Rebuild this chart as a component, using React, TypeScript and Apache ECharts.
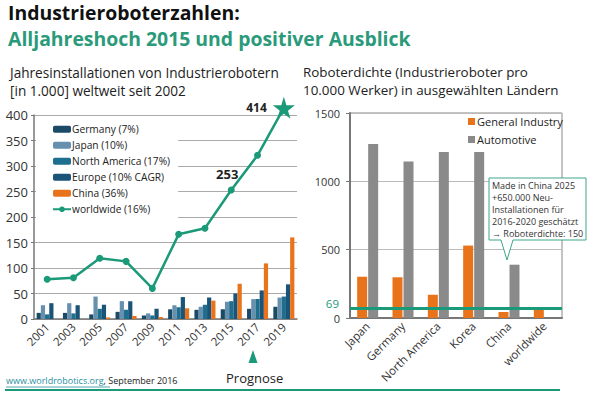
import React, { useEffect, useRef } from "react";
import * as echarts from "echarts";

const years = ["2001", "2003", "2005", "2007", "2009", "2011", "2013", "2015", "2017", "2019"];
const germany = [12, 12, 9, 14, 7, 19, 18, 19, 20, 24];
const japan = [27, 31, 44, 35, 11, 27, 24, 34, 39, 42];
const northAmerica = [9, 11, 20, 18, 7, 23, 28, 35, 39, 44];
const europe = [31, 27, 28, 35, 20, 43, 42, 50, 56, 68];
const china = [0, 0, 3, 6, 4, 21, 36, 69, 109, 160];
const worldwide = [78, 81, 119, 113, 60, 166, 178, 253, 321, 414];

const countries = ["Japan", "Germany", "North America", "Korea", "China", "worldwide"];
const generalIndustry = [302, 298, 170, 530, 44, 69];
const automotive = [1273, 1146, 1215, 1215, 390, null];
const worldwideDensity = 69;

const TEAL = "#1a9a78";
const ORANGE = "#e8731a";
const FONT = "Open Sans";
const STAR = "path://M50,0 L61,35 L98,35 L68,57 L79,91 L50,70 L21,91 L32,57 L2,35 L39,35 Z";

export default function App() {
  const ref = useRef<HTMLDivElement>(null);
  useEffect(() => {
    const chart = echarts.init(ref.current!, null, { renderer: "svg" });
    const barSeries = (name: string, data: number[], color: string) => ({
      name,
      type: "bar",
      xAxisIndex: 0,
      yAxisIndex: 0,
      data,
      itemStyle: { color },
      barGap: "0%",
      barCategoryGap: "20%",
    });
    chart.setOption({
      animation: false,
      textStyle: { fontFamily: FONT },
      title: [
        { text: "Industrieroboterzahlen:", left: 8, top: 3, padding: 0, textStyle: { fontFamily: FONT, fontSize: 19.4, fontWeight: "bold", color: "#111" } },
        { text: "Alljahreshoch 2015 und positiver Ausblick", left: 8, top: 29, padding: 0, textStyle: { fontFamily: FONT, fontSize: 19.4, fontWeight: "bold", color: "#2a9a7a" } },
        { text: "Jahresinstallationen von Industrierobotern\n[in 1.000] weltweit seit 2002", left: 10, top: 63, padding: 0, textStyle: { fontFamily: FONT, fontSize: 13.6, fontWeight: "normal", lineHeight: 18, color: "#222" } },
        { text: "Roboterdichte (Industrieroboter pro\n10.000 Werker) in ausgewählten Ländern", left: 303, top: 63, padding: 0, textStyle: { fontFamily: FONT, fontSize: 13.4, fontWeight: "normal", lineHeight: 18, color: "#222" } },
      ],
      legend: [
        {
          data: ["Germany (7%)", "Japan (10%)", "North America (17%)", "Europe (10% CAGR)", "China (36%)", "worldwide (16%)"],
          orient: "vertical",
          left: 36,
          top: 119,
          itemWidth: 18,
          itemHeight: 7,
          itemGap: 3.5,
          padding: [4, 8, 4, 16],
          backgroundColor: "#fff",
          textStyle: { fontFamily: FONT, fontSize: 10.2, color: "#222", padding: [0, 0, 0, -4], lineHeight: 12.5 },
        },
        {
          data: ["General Industry", "Automotive"],
          orient: "vertical",
          left: 468,
          top: 116,
          icon: "rect",
          itemWidth: 7,
          itemHeight: 7,
          itemGap: 7,
          padding: 0,
          textStyle: { fontFamily: FONT, fontSize: 11, color: "#222", padding: [0, 0, 0, -3] },
        },
      ],
      grid: [
        { left: 34, top: 115, width: 263, height: 204 },
        { left: 350, top: 113, width: 212, height: 205, show: true, borderColor: "#888", borderWidth: 1, backgroundColor: "transparent" },
      ],
      xAxis: [
        {
          type: "category",
          gridIndex: 0,
          data: years,
          axisLine: { lineStyle: { color: "#777", width: 1.5 } },
          axisTick: { lineStyle: { color: "#777" }, length: 4 },
          axisLabel: { rotate: 45, fontSize: 11.5, color: "#333", margin: 6, fontFamily: FONT },
        },
        {
          type: "category",
          gridIndex: 1,
          data: countries,
          axisLine: { lineStyle: { color: "#777", width: 2 } },
          axisTick: { lineStyle: { color: "#777" }, length: 4 },
          axisLabel: { rotate: 45, fontSize: 11.5, color: "#333", margin: 6, fontFamily: FONT },
        },
      ],
      yAxis: [
        {
          type: "value",
          gridIndex: 0,
          min: 0,
          max: 400,
          interval: 50,
          axisLine: { show: true, lineStyle: { color: "#777", width: 1.5 } },
          axisTick: { show: true, length: 3, lineStyle: { color: "#777" } },
          splitLine: { lineStyle: { color: "#aaa" } },
          axisLabel: { fontSize: 13, color: "#333", margin: 6, fontFamily: FONT },
        },
        {
          type: "value",
          gridIndex: 1,
          min: 0,
          max: 1500,
          interval: 500,
          axisLine: { show: true, lineStyle: { color: "#777", width: 2 } },
          axisTick: { show: true, length: 4, lineStyle: { color: "#777" } },
          splitLine: { lineStyle: { color: "#bbb" } },
          axisLabel: { fontSize: 11, color: "#333", margin: 10, fontFamily: FONT, formatter: (v: number) => String(v) },
        },
      ],
      series: [
        barSeries("Germany (7%)", germany, "#1b4a66"),
        barSeries("Japan (10%)", japan, "#6690ad"),
        barSeries("North America (17%)", northAmerica, "#1e6e8e"),
        barSeries("Europe (10% CAGR)", europe, "#1a5479"),
        barSeries("China (36%)", china, ORANGE),
        {
          name: "worldwide (16%)",
          type: "line",
          xAxisIndex: 0,
          yAxisIndex: 0,
          clip: false,
          z: 5,
          data: worldwide.map((v, i) => {
            if (i === 7) return { value: v, label: { show: true, position: "top", offset: [-4, -1], formatter: "{c}", fontWeight: "bold", fontSize: 13, color: "#222" } };
            if (i === worldwide.length - 1)
              return { value: v, symbol: STAR, symbolSize: 22, label: { show: true, position: "left", distance: 6, formatter: "{c}", fontWeight: "bold", fontSize: 12, color: "#222" } };
            return v;
          }),
          symbol: "circle",
          symbolSize: 7,
          lineStyle: { color: TEAL, width: 2.5 },
          itemStyle: { color: TEAL },
        },
        {
          name: "General Industry",
          type: "bar",
          xAxisIndex: 1,
          yAxisIndex: 1,
          data: generalIndustry,
          barWidth: 10,
          barGap: "10%",
          itemStyle: { color: ORANGE },
          markLine: {
            silent: true,
            symbol: "none",
            data: [{ yAxis: worldwideDensity }],
            lineStyle: { color: TEAL, width: 3, type: "solid" },
            label: { position: "start", formatter: "69", color: TEAL, fontSize: 11.5, distance: 11, offset: [0, -5], fontFamily: FONT },
          },
        },
        {
          name: "Automotive",
          type: "bar",
          xAxisIndex: 1,
          yAxisIndex: 1,
          data: automotive,
          barWidth: 10,
          barGap: "10%",
          itemStyle: { color: "#8a8a8a" },
        },
      ],
      graphic: [
        {
          type: "polygon",
          shape: { points: [[489, 178], [586, 178], [586, 240], [513, 240], [507, 260], [501, 240], [489, 240]] },
          style: { fill: "#fff", stroke: "#3ea58c", lineWidth: 1 },
          z: 100,
        },
        {
          type: "text",
          left: 492,
          top: 179,
          z: 101,
          style: {
            text: "Made in China 2025\n+650.000 Neu-\nInstallationen für\n2016-2020 geschätzt\n→ Roboterdichte: 150",
            font: `9px "${FONT}"`,
            lineHeight: 12.2,
            fill: "#333",
          },
        },
        {
          type: "polygon",
          shape: { points: [[253, 350], [248.5, 363], [257.5, 363]] },
          style: { fill: TEAL },
        },
        {
          type: "text",
          left: 226,
          top: 371,
          style: { text: "Prognose", font: `13px "${FONT}"`, fill: "#222" },
        },
        {
          type: "text",
          left: 6,
          top: 376,
          style: {
            text: "{a|www.worldrobotics.org}{b|, September 2016}",
            rich: {
              a: { fontSize: 9, fill: "#2a8fa0", fontFamily: FONT },
              b: { fontSize: 9, fill: "#222", fontFamily: FONT },
            },
          },
        },
        {
          type: "line",
          shape: { x1: 6, y1: 387, x2: 110, y2: 387 },
          style: { stroke: "#2a8fa0", lineWidth: 0.8 },
        },
        {
          type: "line",
          shape: { x1: 5, y1: 390, x2: 560, y2: 390 },
          style: { stroke: TEAL, lineWidth: 2 },
        },
      ],
    });
    return () => chart.dispose();
  }, []);
  return <div ref={ref} style={{ position: "fixed", left: 0, top: 0, width: 596, height: 394, background: "#fff" }} />;
}
